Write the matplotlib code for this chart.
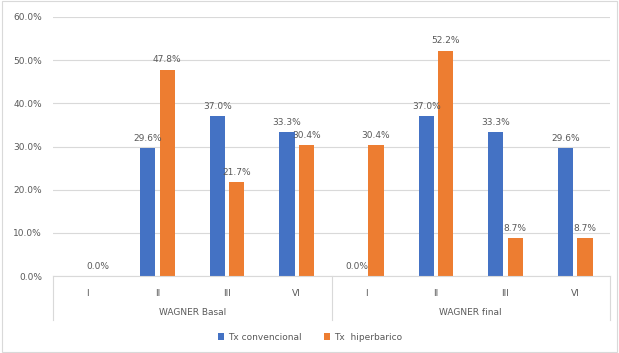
import numpy as np
import matplotlib.pyplot as plt
from matplotlib.lines import Line2D

groups = ["WAGNER Basal", "WAGNER final"]
grades = ["I", "II", "III", "VI"]
convencional = [np.nan, 29.6, 37.0, 33.3, 0.0, 37.0, 33.3, 29.6]
hiperbarico = [0.0, 47.8, 21.7, 30.4, 30.4, 52.2, 8.7, 8.7]

blue = "#4472C4"
orange = "#ED7D31"
txt = "#595959"

fig = plt.figure(figsize=(6.19, 3.53), dpi=100)
ax = fig.add_axes([53/619, 1-276/353, (610-53)/619, (276-17)/353])

x = np.arange(len(convencional))
w = 0.22
off = 0.14
b1 = ax.bar(x - off, np.array(convencional)/100, w, color=blue, label="Tx convencional")
b2 = ax.bar(x + off, np.array(hiperbarico)/100, w, color=orange, label="Tx  hiperbarico")

for xs, vals in ((x - off, convencional), (x + off, hiperbarico)):
    for xi, v in zip(xs, vals):
        if np.isnan(v):
            continue
        ax.text(xi, v/100 + 0.012, f"{v:.1f}%", ha="center", va="bottom",
                fontsize=6.5, color=txt)

ax.set_xlim(-0.5, len(x) - 0.5)
ax.set_ylim(0, 0.6)
ax.set_yticks(np.arange(0, 0.61, 0.1))
ax.set_yticklabels([f"{t*100:.1f}%" for t in np.arange(0, 0.61, 0.1)])
ax.yaxis.grid(True, color="#D9D9D9", lw=0.8)
ax.set_axisbelow(True)
for s in ("top", "right", "left"):
    ax.spines[s].set_visible(False)
ax.spines["bottom"].set_color("#D9D9D9")
ax.tick_params(axis="y", length=0, labelsize=6.5, labelcolor=txt, pad=8)
ax.set_xticks(x)
ax.set_xticklabels(grades * 2)
ax.tick_params(axis="x", length=0, labelsize=6.5, labelcolor=txt, pad=9)

# group labels and separators below the category axis
trans = ax.get_xaxis_transform()
for i, g in enumerate(groups):
    ax.text(i*4 + 1.5, -0.14, g, transform=trans, ha="center", va="center",
            fontsize=6.5, color=txt)
for xs in (-0.5, 3.5, 7.5):
    ax.add_line(Line2D([xs, xs], [0, -0.17], transform=trans, color="#D9D9D9",
                       lw=0.8, clip_on=False))

fig.legend(handles=[b1, b2], loc="center", bbox_to_anchor=(310/619, 1-337/353),
           ncol=2, frameon=False, fontsize=6.5, labelcolor=txt,
           handlelength=0.7, handleheight=0.7, columnspacing=2.5, handletextpad=0.4)

fig.patches.append(plt.Rectangle((0.003, 0.003), 0.994, 0.994, transform=fig.transFigure,
                                 fill=False, ec="#D9D9D9", lw=0.8))
fig.savefig("out.png", dpi=100)
